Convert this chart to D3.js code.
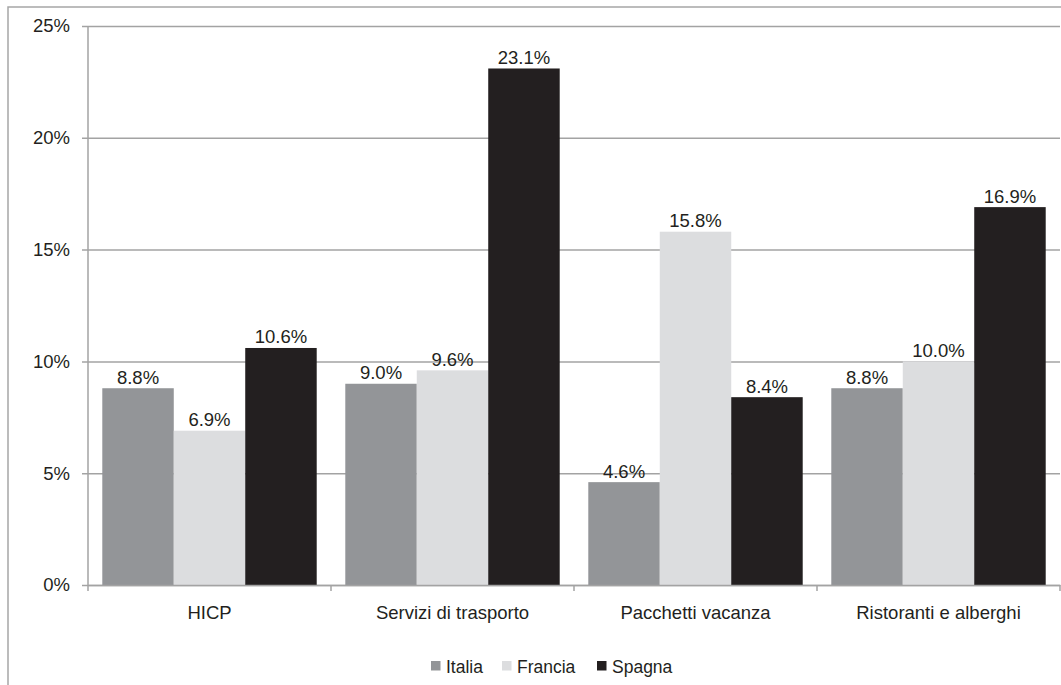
<!DOCTYPE html>
<html>
<head>
<meta charset="utf-8">
<script src="https://cdn.jsdelivr.net/npm/d3@7"></script>
<style>
  html, body { margin: 0; padding: 0; background: #fff; }
  svg { display: block; font-family: "Liberation Sans", Arial, sans-serif; }
</style>
</head>
<body>
<svg id="chart" width="1061" height="685"></svg>
<script>
// Categories, series and values (percent)
const categories = ["HICP", "Servizi di trasporto", "Pacchetti vacanza", "Ristoranti e alberghi"];
const seriesNames = ["Italia", "Francia", "Spagna"];
const italia  = [8.8, 9.0, 4.6, 8.8];
const francia = [6.9, 9.6, 15.8, 10.0];
const spagna  = [10.6, 23.1, 8.4, 16.9];
const yTicks = [0, 5, 10, 15, 20, 25];
const colors = ["#939598", "#dcdddf", "#231f20"];

const seriesValues = [italia, francia, spagna];
const rows = categories.map((c, i) => ({
  category: c,
  values: seriesNames.map((s, j) => ({ series: s, value: seriesValues[j][i], color: colors[j] }))
}));

const svg = d3.select("#chart");
const plotLeft = 88, plotRight = 1060, plotTop = 26, plotBottom = 585;
const textColor = "#231f20";
const gridColor = "#a3a3a3";

// Outer frame
svg.append("rect")
  .attr("x", 8).attr("y", 7).attr("width", 1100).attr("height", 720)
  .attr("fill", "none").attr("stroke", "#a6a6a6").attr("stroke-width", 1.5);

const x0 = d3.scaleBand().domain(categories).range([plotLeft, plotRight]).paddingInner(0).paddingOuter(0);
const x1 = d3.scaleBand().domain(seriesNames).range([0, x0.bandwidth()]).paddingInner(0).paddingOuter(0.2);
const y = d3.scaleLinear().domain([0, 25]).range([plotBottom, plotTop]);

// Horizontal gridlines with outward ticks
const yAxis = svg.append("g")
  .attr("transform", `translate(${plotLeft},0)`)
  .call(d3.axisLeft(y).tickValues(yTicks).tickFormat(d => d + "%").tickSize(0).tickPadding(18));
yAxis.select(".domain").remove();
yAxis.selectAll(".tick text")
  .attr("fill", textColor).attr("font-size", "18.5px")
  .attr("font-family", "'Liberation Sans', Arial, sans-serif");
yAxis.selectAll(".tick").append("line")
  .attr("x1", -6).attr("x2", plotRight - plotLeft)
  .attr("stroke", gridColor).attr("stroke-width", 1.5);

// Bars
const groups = svg.append("g").selectAll("g")
  .data(rows).join("g")
  .attr("transform", d => `translate(${x0(d.category)},0)`);

groups.selectAll("rect")
  .data(d => d.values).join("rect")
  .attr("x", d => x1(d.series))
  .attr("width", x1.bandwidth())
  .attr("y", d => y(d.value))
  .attr("height", d => y(0) - y(d.value))
  .attr("fill", d => d.color);

// Value labels
groups.selectAll("text")
  .data(d => d.values).join("text")
  .attr("x", d => x1(d.series) + x1.bandwidth() / 2)
  .attr("y", d => y(d.value) - 4.5)
  .attr("text-anchor", "middle")
  .attr("font-size", "18.5px")
  .attr("fill", textColor)
  .text(d => d.value.toFixed(1) + "%");

// Vertical axis line
svg.append("line")
  .attr("x1", plotLeft).attr("x2", plotLeft).attr("y1", plotTop).attr("y2", plotBottom)
  .attr("stroke", gridColor).attr("stroke-width", 1.5);

// Category axis
const xAxis = svg.append("g")
  .attr("transform", `translate(0,${plotBottom})`)
  .call(d3.axisBottom(x0).tickSize(0).tickPadding(21));
xAxis.select(".domain").attr("stroke", gridColor).attr("stroke-width", 1.5);
xAxis.selectAll(".tick text")
  .attr("fill", textColor).attr("font-size", "18.5px")
  .attr("font-family", "'Liberation Sans', Arial, sans-serif");
// Boundary ticks between categories
const bounds = categories.map(c => x0(c)).concat([plotRight]);
svg.append("g").selectAll("line")
  .data(bounds).join("line")
  .attr("x1", d => d).attr("x2", d => d)
  .attr("y1", plotBottom).attr("y2", plotBottom + 6)
  .attr("stroke", gridColor).attr("stroke-width", 1.5);

// Legend
const legendX = [431, 502, 597];
const legend = svg.append("g").selectAll("g")
  .data(seriesNames).join("g")
  .attr("transform", (d, i) => `translate(${legendX[i]},661)`);
legend.append("rect")
  .attr("width", 9.5).attr("height", 9.5)
  .attr("fill", (d, i) => colors[i]);
legend.append("text")
  .attr("x", 15).attr("y", 12)
  .attr("font-size", "17.5px")
  .attr("fill", textColor)
  .text(d => d);
</script>
</body>
</html>
